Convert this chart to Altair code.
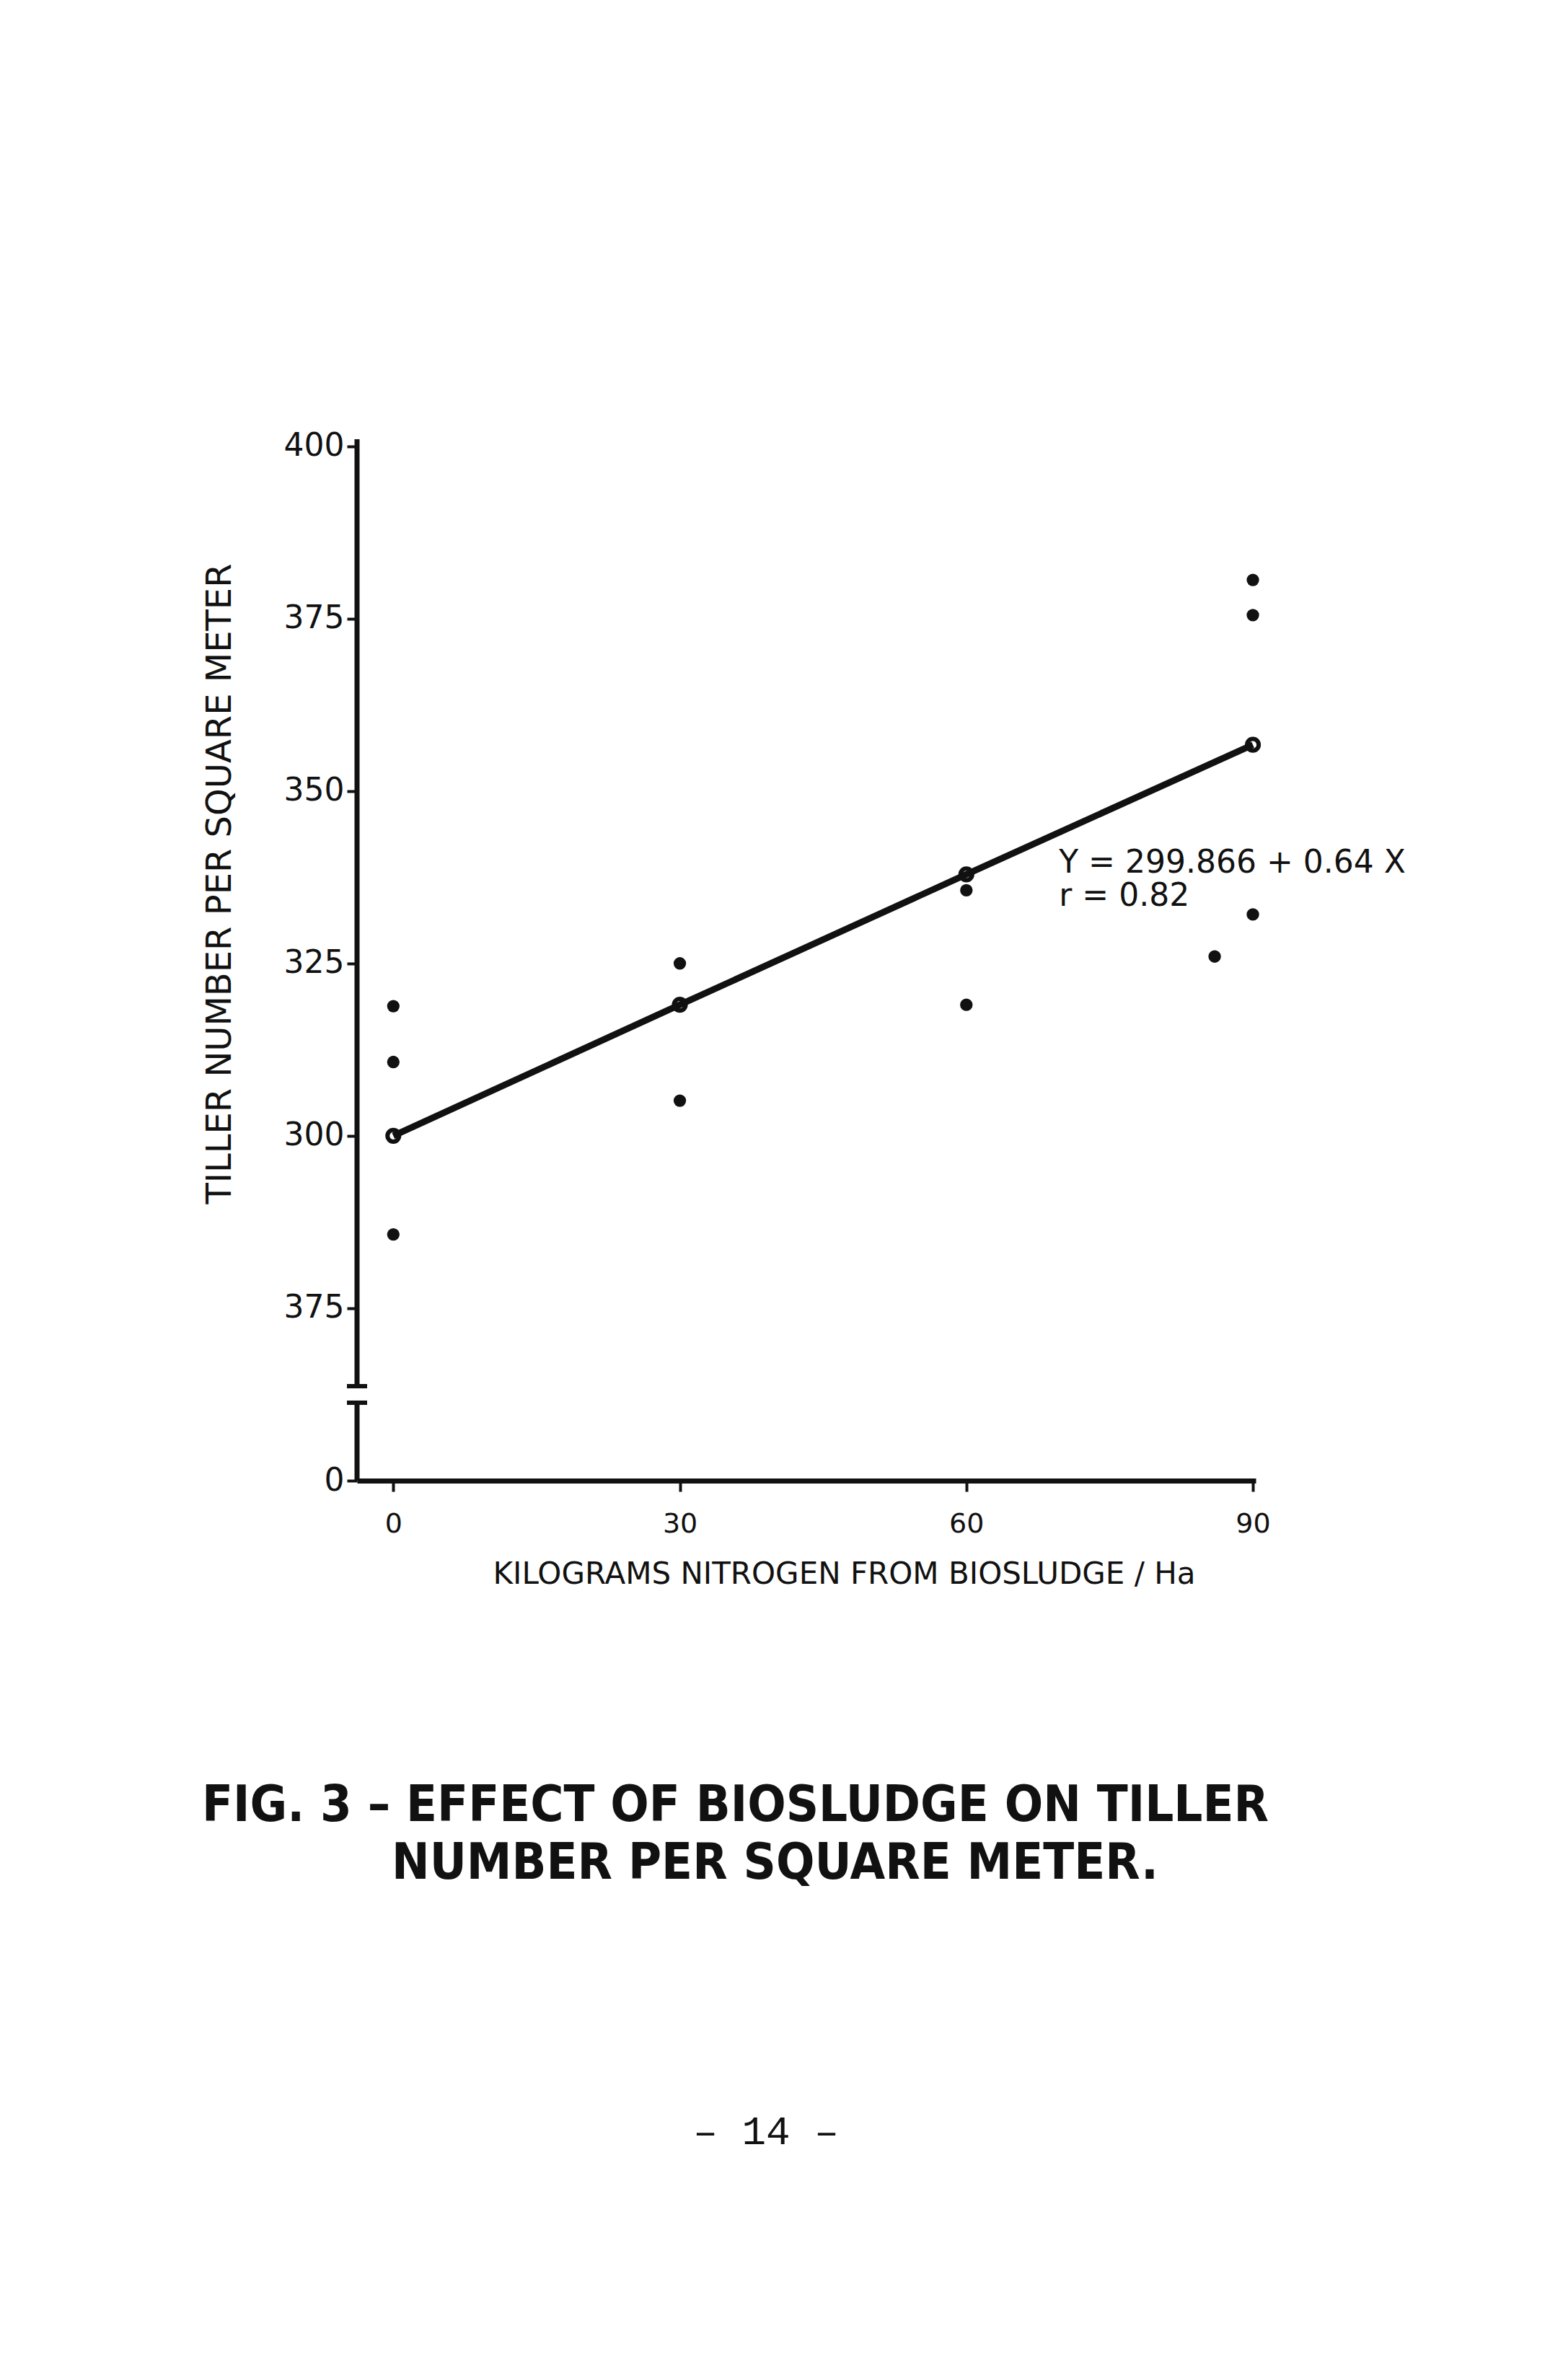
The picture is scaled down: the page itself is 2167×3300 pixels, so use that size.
import altair as alt
import pandas as pd

# ---------------- data ----------------
dose_kg_n = [0, 0, 0, 30, 30, 60, 60, 86, 90, 90, 90]
tillers_m2 = [318.8, 310.7, 285.7, 325.0, 305.1, 335.6, 319.0, 326.0, 380.6, 375.5, 332.1]

fit_x = [0, 30, 60, 90]
fit_y = [300.0, 319.0, 337.9, 356.7]

y_tick_values = [250, 275, 300, 325, 350, 375, 400]
y_tick_labels = ["0", "375", "300", "325", "350", "375", "400"]
x_tick_values = [0, 30, 60, 90]

axis_break = [261.3, 263.7]           # broken-axis gap on the y axis
axis_segments_lo = [250, 261.3]
axis_segments_hi = [263.7, 401]

equation_lines = ["Y = 299.866 + 0.64 X", "r = 0.82"]
caption_lines = ["FIG. 3 \u2013 EFFECT OF BIOSLUDGE ON TILLER", "NUMBER PER SQUARE METER."]
page_number = "\u2013 14 \u2013"

x_title = "KILOGRAMS NITROGEN FROM BIOSLUDGE / Ha"
y_title = "TILLER NUMBER PER SQUARE METER"

# ---------------- layout ----------------
W, H = 1246, 1444
PAD = {"left": 495, "top": 609, "right": 2167 - 495 - W, "bottom": 3300 - 609 - H}
INK = "#111111"
FONT = "DejaVu Sans"
NARROW = "Liberation Sans Narrow, DejaVu Sans Condensed, Liberation Sans"

xs = alt.Scale(domain=[-3.8, 90.3], nice=False, zero=False)
ys = alt.Scale(domain=[250, 401], nice=False, zero=False)

label_expr = " : ".join(
    f"datum.value == {v} ? '{l}'" for v, l in zip(y_tick_values, y_tick_labels)
) + " : datum.label"

pts = pd.DataFrame({"x": dose_kg_n, "y": tillers_m2})
fit = pd.DataFrame({"x": fit_x, "y": fit_y})

x_enc = alt.X(
    "x:Q", scale=xs,
    axis=alt.Axis(
        values=x_tick_values, title=x_title, grid=False,
        domain=True, domainColor=INK, domainWidth=7,
        ticks=True, tickColor=INK, tickWidth=4, tickSize=15,
        labelFont=FONT, labelFontSize=38, labelColor=INK, labelPadding=26,
        titleFont=FONT, titleFontSize=42, titleFontWeight="normal", titleColor=INK,
        titleX=675, titleY=129, titleBaseline="middle", titleAlign="center",
    ),
)
y_enc = alt.Y(
    "y:Q", scale=ys,
    axis=alt.Axis(
        values=y_tick_values, labelExpr=label_expr, title=y_title, grid=False,
        domain=False, ticks=True, tickColor=INK, tickWidth=4, tickSize=14,
        labelFont=FONT, labelFontSize=44, labelColor=INK, labelPadding=4,
        titleFont=FONT, titleFontSize=48, titleFontWeight="normal", titleColor=INK,
        titleX=-190, titleY=616, titleAngle=-90, titleAlign="center", titleBaseline="middle",
    ),
)

points = alt.Chart(pts).mark_circle(size=300, opacity=1, color=INK).encode(x=x_enc, y=y_enc)

fit_line = alt.Chart(fit).mark_line(color=INK, strokeWidth=9).encode(x="x:Q", y="y:Q")
fit_rings = alt.Chart(fit).mark_point(
    filled=False, size=260, strokeWidth=6, color=INK, opacity=1
).encode(x="x:Q", y="y:Q")

seg = pd.DataFrame({"y": [axis_segments_lo[0], axis_segments_hi[0]],
                    "y2": [axis_segments_lo[1], axis_segments_hi[1]]})
y_axis_line = alt.Chart(seg).mark_rule(color=INK, strokeWidth=7).encode(
    x=alt.value(0), y="y:Q", y2="y2:Q"
)
caps = alt.Chart(pd.DataFrame({"y": axis_break})).mark_rule(color=INK, strokeWidth=6).encode(
    x=alt.value(-14), x2=alt.value(14), y="y:Q"
)

equation = alt.Chart(pd.DataFrame({"x": [69.7], "y": [341.8]})).mark_text(
    text=equation_lines, align="left", baseline="top", font=FONT,
    fontSize=44, lineHeight=46, color=INK,
).encode(x="x:Q", y="y:Q")

cap1 = alt.Chart(pd.DataFrame({"t": [caption_lines[0]]})).mark_text(
    align="left", baseline="middle", font=NARROW, fontSize=70, fontWeight="bold", color=INK
).encode(text="t:N", x=alt.value(-215), y=alt.value(1895))
cap2 = alt.Chart(pd.DataFrame({"t": [caption_lines[1]]})).mark_text(
    align="left", baseline="middle", font=NARROW, fontSize=70, fontWeight="bold", color=INK
).encode(text="t:N", x=alt.value(48), y=alt.value(1975))
page = alt.Chart(pd.DataFrame({"t": [page_number]})).mark_text(
    align="center", baseline="middle", font="Liberation Mono", fontSize=56, color=INK
).encode(text="t:N", x=alt.value(567), y=alt.value(2347))

chart = alt.layer(
    points, fit_line, fit_rings, y_axis_line, caps, equation, cap1, cap2, page
).properties(
    width=W, height=H,
    padding=PAD,
    autosize=alt.AutoSizeParams(type="none"),
    background="white",
).configure_view(stroke=None)

chart.save("out.html", embed_options={"renderer": "svg", "actions": False})
